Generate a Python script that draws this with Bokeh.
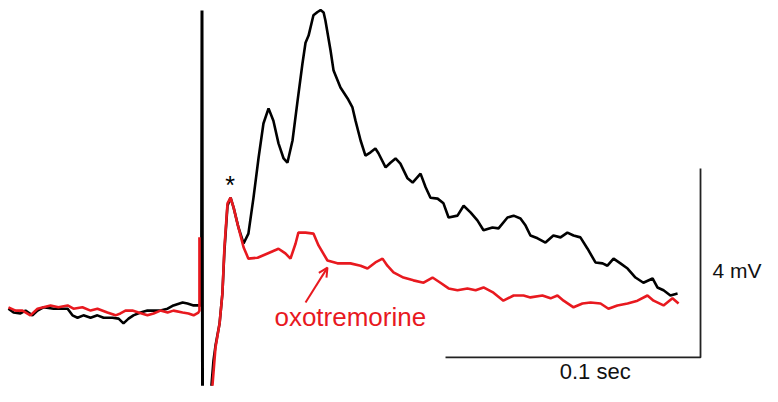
from bokeh.plotting import figure
from bokeh.models import Range1d, Arrow, OpenHead
from bokeh.core.properties import value
from bokeh.embed import file_html
from bokeh.resources import INLINE

# ---- data: time in ms (stimulus at 0), potential in mV ----
# control (black): pre-stimulus baseline + stimulus artifact
black_base_t = [-76.1, -74.1, -71.4, -69.4, -66.7, -64.7, -62.4, -58.4, -55.7, -52.9, -51.0, -49.0,
                -46.7, -43.9, -41.2, -38.8, -35.3, -32.9, -31.0, -29.0, -27.1, -24.3, -21.6, -19.2,
                -16.5, -13.7, -11.4, -7.8, -5.9, -3.5, -1.6, -0.4, -0.2, 0.0]
black_base_v = [0.08, 0.0, -0.02, 0.04, -0.06, 0.04, 0.11, 0.08, 0.08, 0.08, -0.06, -0.11,
                -0.06, -0.11, -0.06, -0.11, -0.11, -0.13, -0.23, -0.13, -0.06, 0.0, 0.04, 0.04,
                0.04, 0.08, 0.15, 0.21, 0.19, 0.15, 0.15, 0.15, 6.39, -1.55]
# control (black): evoked response
black_resp_t = [3.5, 4.3, 5.1, 6.7, 7.8, 8.6, 9.8, 11.0, 12.2, 14.1, 16.1, 18.0, 20.0, 22.0, 23.9, 25.9,
                27.8, 29.8, 31.8, 33.3, 35.3, 37.3, 39.2, 40.4, 41.6, 43.5, 45.1, 46.3, 47.5, 48.2, 50.2,
                51.4, 54.1, 56.9, 58.8, 60.0,
                62.0, 63.9, 65.9, 67.8, 69.0, 71.8, 73.7, 75.7, 77.6, 80.4, 82.4, 85.5, 87.5, 89.4,
                92.2, 94.5, 96.5, 100.0, 102.4, 105.1, 107.8, 110.2, 113.7, 116.1, 119.6, 122.0,
                124.7, 126.7, 128.6, 131.4, 134.5, 137.6, 140.4, 143.1, 145.5, 148.2, 151.0, 154.1,
                156.9, 158.8, 161.2, 163.9, 166.7, 169.8, 172.9, 176.5, 178.4, 180.8, 183.5, 186.3]
black_resp_v = [-1.55, -1.02, -0.70, -0.23, 0.40, 1.31, 2.26, 2.43, 2.22, 1.80,
                1.46, 1.67, 2.43, 3.28, 4.00, 4.32, 4.06, 3.58, 3.26, 3.17,
                3.64, 4.49, 5.27, 5.71, 5.86, 6.29, 6.36, 6.40, 6.35, 6.18,
                5.55, 5.12, 4.76, 4.53, 4.34, 4.06,
                3.64, 3.32, 3.39, 3.47, 3.37, 3.07, 3.17, 3.26, 3.15, 2.84, 2.75, 2.94, 2.65, 2.43,
                2.41, 2.31, 2.01, 2.05, 2.26, 2.12, 1.95, 1.74, 1.80, 1.78, 2.01, 2.05,
                1.99, 1.84, 1.63, 1.57, 1.48, 1.63, 1.59, 1.69, 1.63, 1.59, 1.35, 1.06,
                1.04, 0.99, 1.14, 1.04, 0.93, 0.74, 0.63, 0.72, 0.53, 0.47, 0.36, 0.40]

# oxotremorine (red): baseline + artifact edge
red_base_t = [-76.1, -73.3, -70.6, -67.5, -64.7, -62.4, -59.6, -56.5, -52.9, -50.6, -47.1, -43.9,
              -41.2, -37.3, -34.1, -32.2, -30.2, -27.5, -25.1, -21.6, -19.2, -16.5, -13.7, -11.4,
              -7.8, -5.5, -3.5, -1.6, -1.2, -1.2]
red_base_v = [0.11, 0.04, 0.04, -0.06, 0.08, 0.11, 0.15, 0.11, 0.15, 0.08, 0.11, 0.04,
              0.08, 0.0, -0.06, -0.02, 0.04, 0.04, 0.0, -0.06, -0.02, 0.04, 0.0, 0.04,
              0.0, -0.02, -0.06, 0.0, 0.04, 1.59]
# oxotremorine (red): evoked response
red_resp_t = [3.9, 5.1, 6.7, 7.8, 8.6, 9.8, 11.0, 12.2, 13.7, 16.1, 18.0, 21.6, 25.5, 29.8, 32.5, 34.5,
              36.5, 37.6, 40.4, 43.5, 45.5, 49.0, 52.9, 58.0,
              62.0, 64.7, 67.8, 70.6, 72.5, 74.9, 78.8, 82.7, 86.7, 90.2, 93.3, 96.5, 100.0, 103.9,
              107.1, 110.2, 114.1, 118.0, 122.0, 125.9, 128.6, 133.3, 136.5, 139.2, 141.6, 145.5,
              149.0, 152.2, 156.1, 159.2, 162.7, 166.7, 170.6, 174.5, 176.9, 180.8, 184.3, 186.7]
red_resp_v = [-1.55, -0.74, -0.23, 0.40, 1.38, 2.31, 2.43, 2.22, 1.88, 1.38,
              1.14, 1.16, 1.25, 1.35, 1.25, 1.14, 1.46, 1.69, 1.69, 1.67,
              1.42, 1.10, 1.04, 1.04,
              0.99, 0.93, 1.06, 1.14, 0.99, 0.85, 0.74, 0.68, 0.63, 0.74, 0.63, 0.51, 0.47, 0.51,
              0.47, 0.53, 0.42, 0.25, 0.36, 0.36, 0.32, 0.36, 0.30, 0.36, 0.25, 0.11,
              0.19, 0.21, 0.19, 0.08, 0.15, 0.19, 0.25, 0.36, 0.25, 0.15, 0.30, 0.19]

scale_t_ms = 100.0   # 0.1 sec
scale_v_mv = 4.0     # 4 mV
scale_labels = ["0.1 sec", "4 mV"]
drug_label = "oxotremorine"
RED = "#e8191f"
FONT = "Liberation Sans"

p = figure(width=762, height=386, output_backend="svg", toolbar_location=None,
           x_range=Range1d(-79.22, 219.61), y_range=Range1d(-1.566, 6.603),
           min_border=0, min_border_left=0, min_border_right=0,
           min_border_top=0, min_border_bottom=0)
p.axis.visible = False
p.grid.visible = False
p.outline_line_color = None
p.background_fill_color = "white"
p.border_fill_color = "white"

LW = 2.6
# black trace (control)
n_pre = len(black_base_t) - 3
p.line(black_base_t[:n_pre + 1], black_base_v[:n_pre + 1], line_color="black", line_width=LW)
p.line(black_base_t[n_pre:], black_base_v[n_pre:], line_color="black", line_width=3)
p.line(black_resp_t, black_resp_v, line_color="black", line_width=LW)

# red trace (oxotremorine)
p.line(red_base_t, red_base_v, line_color=RED, line_width=LW)
p.line(red_resp_t, red_resp_v, line_color=RED, line_width=LW)

# scale bars
bar_t0 = 195.3
bar_v0 = -0.95
p.line([bar_t0 - scale_t_ms, bar_t0, bar_t0], [bar_v0, bar_v0, bar_v0 + scale_v_mv],
       line_color="#222222", line_width=1.8)

p.text(x=[154.0], y=[-1.25], text=[scale_labels[0]], text_font=value(FONT),
       text_font_size="22px", text_align="center", text_baseline="middle", text_color="#111111")
p.text(x=[200.0], y=[0.89], text=[scale_labels[1]], text_font=value(FONT),
       text_font_size="21px", text_align="left", text_baseline="middle", text_color="#111111")

# asterisk over the early peak
p.text(x=[10.8], y=[2.69], text=["*"], text_font=value(FONT), text_font_size="25px",
       text_align="center", text_baseline="middle", text_color="black")

# drug label and arrow
p.text(x=[28.2], y=[-0.095], text=[drug_label], text_font=value(FONT), text_font_size="26px",
       text_align="left", text_baseline="middle", text_color=RED)
p.add_layout(Arrow(end=OpenHead(size=9, line_color=RED, line_width=2),
                   x_start=40.4, y_start=0.21, x_end=49.0, y_end=0.95,
                   line_color=RED, line_width=2))

open("out.html", "w").write(file_html(p, INLINE))
